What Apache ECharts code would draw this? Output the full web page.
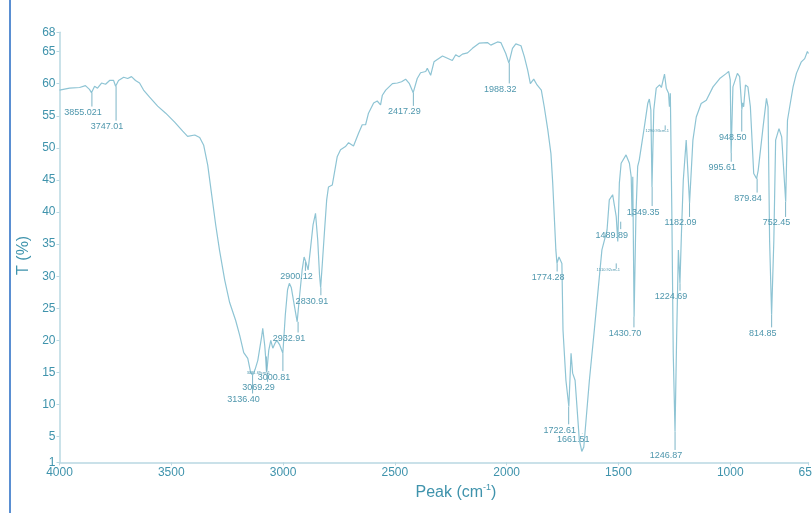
<!DOCTYPE html>
<html><head><meta charset="utf-8">
<script src="https://cdn.jsdelivr.net/npm/echarts@6/dist/echarts.min.js"></script>
<style>html,body{margin:0;padding:0;background:#fff}#c{width:812px;height:513px}</style>
</head><body><div id="c"></div>
<script>
// Spectrum: wavenumber (cm-1) and transmittance (%)
const wavenumbers = [4000,3955,3910,3884,3866,3857,3843,3830,3812,3794,3776,3758,3749,3736,3713,3695,3678,3660,3642,3624,3597,3561,3525,3485,3449,3427,3395,3373,3355,3337,3319,3301,3284,3261,3239,3212,3194,3176,3158,3145,3136,3125,3113,3095,3091,3082,3073,3064,3055,3046,3037,3028,3015,3001,2990,2980,2972,2963,2950,2937,2928,2915,2906,2898,2888,2878,2866,2855,2845,2837,2832,2825,2815,2805,2797,2780,2758,2743,2721,2707,2685,2662,2646,2631,2618,2595,2579,2564,2556,2541,2511,2489,2470,2452,2435,2418,2400,2385,2362,2355,2340,2325,2287,2243,2228,2213,2198,2175,2153,2123,2086,2071,2041,2026,2004,1990,1974,1959,1936,1921,1906,1894,1879,1864,1845,1832,1816,1802,1794,1787,1780,1775,1766,1760,1753,1748,1735,1722,1712,1705,1694,1675,1664,1655,1630,1608,1574,1551,1541,1526,1510,1503,1496,1488,1466,1451,1443,1439,1436,1430,1422,1414,1407,1384,1369,1362,1355,1350,1342,1331,1316,1308,1294,1286,1276,1272,1268,1261,1255,1247,1240,1232,1225,1218,1210,1197,1182,1167,1152,1130,1107,1077,1047,1017,1007,1000,996,988,968,958,948,944,940,932,921,910,895,882,875,853,838,831,824,815,805,797,782,770,752,744,734,719,704,682,667,655,650];
const transmittance = [59.0,59.3,59.4,59.7,59.1,58.6,59.6,59.3,60.1,59.9,60.5,60.5,59.6,60.5,61.0,60.8,61.1,60.5,60.1,59.0,57.9,56.5,55.4,54.0,52.6,51.8,52.0,51.6,50.4,47.3,42.6,37.9,34.0,29.4,25.9,23.1,20.8,18.1,17.2,15.0,14.6,15.5,16.9,20.8,21.9,19.2,15.0,18.5,20.0,18.8,19.5,20.0,19.3,18.0,24.0,27.9,28.9,28.2,25.5,22.9,26.3,30.9,33.0,32.2,31.0,34.1,38.0,39.8,35.6,30.2,28.2,31.7,36.9,41.9,43.9,44.2,48.6,49.7,50.2,50.8,50.3,52.3,53.6,53.6,55.4,57.0,57.3,56.7,58.2,59.0,60.0,60.1,60.3,60.7,60.0,58.6,60.8,61.7,61.9,62.4,61.3,63.4,64.3,63.6,64.5,64.2,64.6,64.8,65.5,66.3,66.4,66.0,66.5,66.4,64.7,63.2,65.5,66.2,65.9,64.2,62.1,60.0,60.7,59.8,59.0,56.4,52.8,49.1,44.5,39.3,34.1,32.0,33.0,33.2,32.0,21.6,13.8,9.7,18.0,14.9,13.8,4.5,2.7,3.4,13.8,21.6,34.1,37.2,41.9,42.7,39.3,35.4,44.5,47.6,48.9,47.6,45.5,39.3,45.5,23.7,39.3,47.1,48.1,53.3,56.9,57.6,55.9,43.9,55.9,59.3,59.8,59.4,61.5,59.3,58.5,56.4,58.5,39.3,18.0,5.8,20.0,34.1,28.9,37.0,45.0,51.2,41.4,51.2,54.8,56.9,57.4,59.5,60.8,61.6,61.9,60.6,49.2,59.5,61.6,61.1,56.0,57.0,56.4,59.8,59.5,56.4,46.0,45.2,46.5,53.3,57.7,56.4,35.6,24.0,35.6,51.2,53.0,51.7,41.6,54.3,56.4,59.5,61.6,63.4,63.9,65.0,64.7];

// Peak annotations
const peakWavenumbers = [3855.021,3747.01,3136.40,3069.29,3000.81,2932.91,2900.12,2830.91,2417.29,1988.32,1774.28,1722.61,1661.51,1489.89,1430.70,1349.35,1246.87,1224.69,1182.09,995.61,948.50,879.84,814.85,752.45];
const peakLabels = ["3855.021","3747.01","3136.40","3069.29","3000.81","2932.91","2900.12","2830.91","2417.29","1988.32","1774.28","1722.61","1661.51","1489.89","1430.70","1349.35","1246.87","1224.69","1182.09","995.61","948.50","879.84","814.85","752.45"];
const peakBandT = [58.6,59.6,14.6,15.0,18.0,22.9,32.2,28.2,58.6,63.2,32.0,9.7,5.5,38.5,23.7,43.9,5.8,28.9,41.4,49.2,56.0,45.2,24.0,41.6];
const peakLabelT = [55.5,53.3,10.8,12.6,14.3,20.3,29.9,26.1,55.6,59.1,29.8,6.0,4.5,36.4,21.1,40.0,2.0,26.8,38.3,46.9,51.6,42.1,21.1,38.3];

// Small secondary annotations
const minorWavenumbers = [3075, 1510, 1291];
const minorLabels = ["3081.69cm-1","1510.92cm-1","1290.93cm-1"];
const minorBandT = [17.5, 32.0, 53.5];
const minorLabelT = [15.0, 31.0, 52.6];

const xTicks = [4000,3500,3000,2500,2000,1500,1000,650];
const yTicks = [1,5,10,15,20,25,30,35,40,45,50,55,60,65,68];

const axisColor = '#b9d8e2';
const labelColor = '#3f93ac';
const curveColor = '#8ec4d4';

const chart = echarts.init(document.getElementById('c'), null, {renderer:'canvas'});

function annotRender(labels, fontSize, dx, gap) {
  return function(params, api) {
    const i = params.dataIndex;
    const p = api.coord([api.value(0), api.value(1)]);
    const l = api.coord([api.value(0), api.value(2)]);
    return {type:'group', children:[
      {type:'line', shape:{x1:p[0], y1:p[1], x2:p[0], y2:l[1]-gap}, style:{stroke:'#7db5c7', lineWidth:1}},
      {type:'text', x:p[0]+dx, y:l[1], style:{text:labels[i], fill:'#4f97ad', font:fontSize+'px "Liberation Sans", Arial, sans-serif', align:'center', verticalAlign:'middle', textAlign:'center', textVerticalAlign:'middle'}}
    ]};
  };
}

chart.setOption({
  animation:false,
  backgroundColor:'#fff',
  grid:{left:59.5, right:3.5, top:32.3, bottom:50.6, containLabel:false, outerBoundsMode:'none'},
  xAxis:{
    type:'value', inverse:true, min:650, max:4000,
    name:'Peak (cm{sup|-1})', nameLocation:'middle', nameGap:20,
    nameTextStyle:{color:labelColor, fontSize:16, fontFamily:'Liberation Sans', padding:[0,0,0,44],
      rich:{sup:{color:labelColor, fontSize:9, fontFamily:'Liberation Sans', padding:[0,0,9,0]}}},
    axisLine:{lineStyle:{color:axisColor, width:1.5}},
    axisTick:{customValues:xTicks, length:3, lineStyle:{color:axisColor}},
    axisLabel:{customValues:xTicks, color:labelColor, fontSize:12, fontFamily:'Liberation Sans', margin:4,
      alignMinLabel:'center', alignMaxLabel:'center', hideOverlap:false,
      formatter:function(v){return String(v);}},
    splitLine:{show:false}
  },
  yAxis:{
    type:'value', min:1, max:68,
    name:'T (%)', nameLocation:'middle', nameGap:23, nameRotate:90,
    nameTextStyle:{color:labelColor, fontSize:16, fontFamily:'Liberation Sans', padding:[0,16,0,0]},
    axisLine:{show:true, lineStyle:{color:axisColor, width:1.5}},
    axisTick:{show:true, customValues:yTicks, length:3, lineStyle:{color:axisColor}},
    axisLabel:{customValues:yTicks, color:labelColor, fontSize:12, fontFamily:'Liberation Sans', margin:4, formatter:function(v){return String(v);}},
    splitLine:{show:false}
  },
  series:[
    {type:'line', data:wavenumbers.map((w,i)=>[w, transmittance[i]]), showSymbol:false,
     lineStyle:{color:curveColor, width:1.2}, smooth:false, z:2},
    {type:'custom', data:peakWavenumbers.map((w,i)=>[w, peakBandT[i], peakLabelT[i]]),
     encode:{x:0, y:1}, renderItem:annotRender(peakLabels, 9, -9, 6), z:3},
    {type:'custom', data:minorWavenumbers.map((w,i)=>[w, minorBandT[i], minorLabelT[i]]),
     encode:{x:0, y:1}, renderItem:annotRender(minorLabels, 4, -8, 1), z:3}
  ],
  graphic:[
    {type:'rect', left:9, top:0, shape:{width:2, height:513}, style:{fill:'#5a8fd2'}}
  ]
});
</script></body></html>
